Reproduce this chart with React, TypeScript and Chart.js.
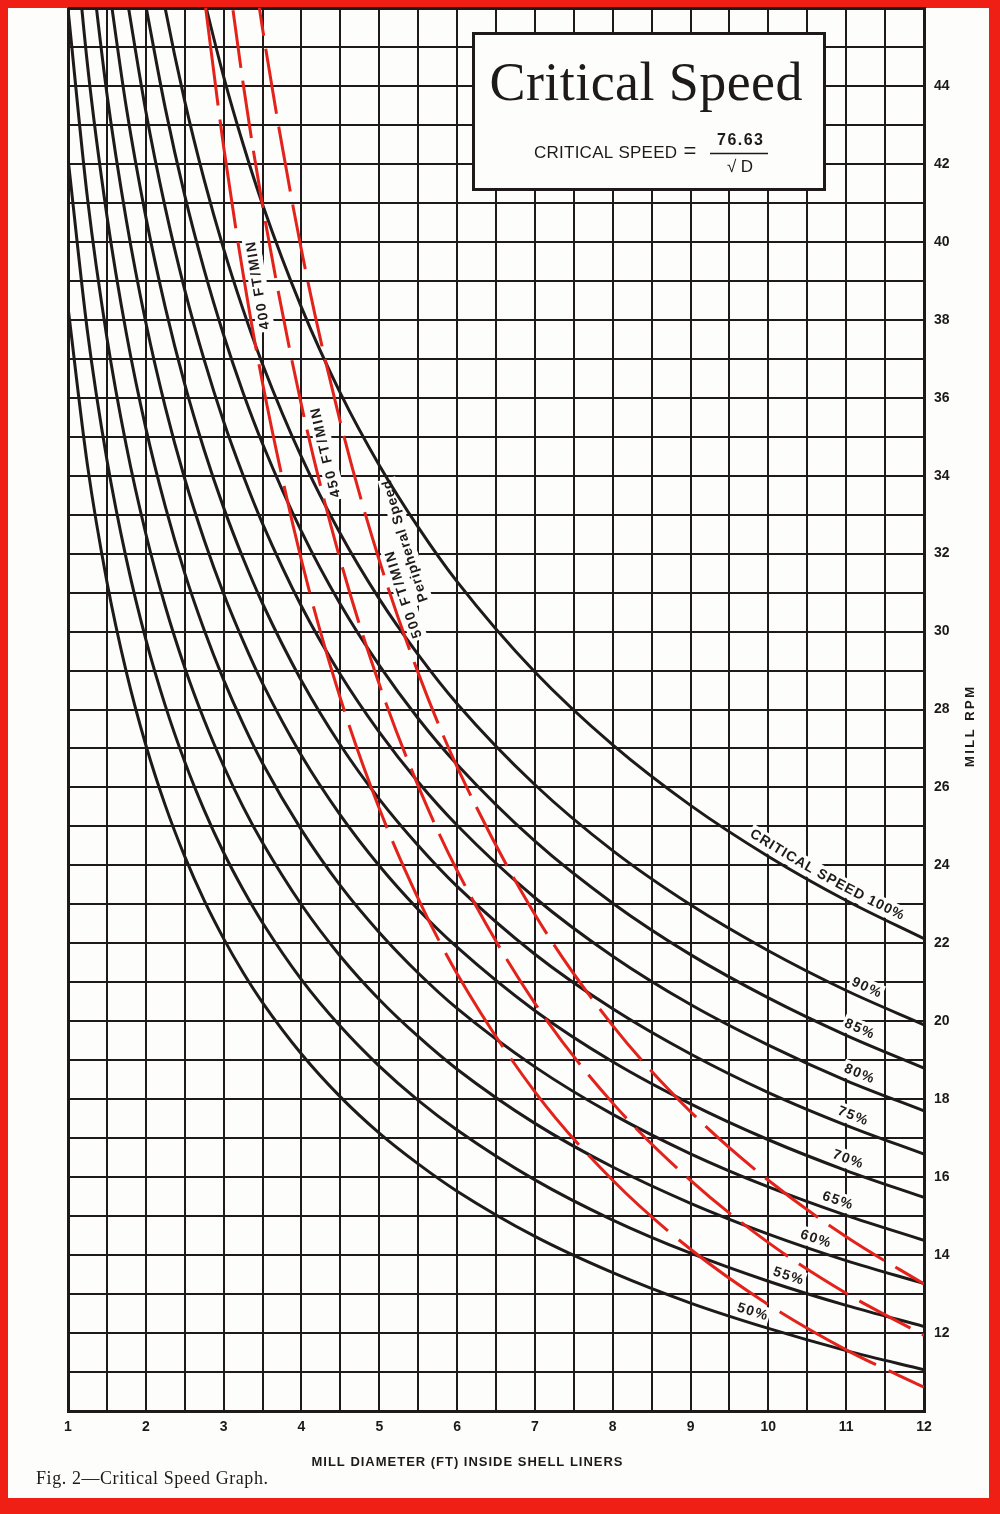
import React, { useEffect, useRef } from "react";
import { Chart, registerables } from "chart.js";

Chart.register(...registerables);

// ---------- data ----------
// Mill diameter (ft) grid used for reading the curves
const diameters = [1, 1.25, 1.5, 1.75, 2, 2.25, 2.5, 2.75, 3, 3.25, 3.5, 4, 4.5, 5, 5.5, 6, 7, 8, 9, 10, 11, 12];

// Mill RPM at each diameter (null = above the top of the sheet)
const rpmCritical100 = [null, null, null, null, null, null, null, 46.21, 44.24, 42.51, 40.96, 38.32, 36.12, 34.27, 32.68, 31.28, 28.96, 27.09, 25.54, 24.23, 23.1, 22.12];
const rpmCritical90 = [null, null, null, null, 48.77, 45.98, 43.61, 41.59, 39.82, 38.26, 36.86, 34.48, 32.51, 30.84, 29.41, 28.15, 26.07, 24.38, 22.99, 21.81, 20.79, 19.91];
const rpmCritical85 = [null, null, null, null, 46.06, 43.43, 41.19, 39.28, 37.61, 36.13, 34.82, 32.57, 30.7, 29.13, 27.77, 26.59, 24.62, 23.03, 21.71, 20.6, 19.64, 18.8];
const rpmCritical80 = [null, null, null, 46.34, 43.35, 40.87, 38.77, 36.97, 35.39, 34.01, 32.77, 30.65, 28.9, 27.42, 26.14, 25.03, 23.17, 21.67, 20.43, 19.39, 18.48, 17.7];
const rpmCritical75 = [null, null, 46.93, 43.44, 40.64, 38.32, 36.35, 34.66, 33.18, 31.88, 30.72, 28.74, 27.09, 25.7, 24.51, 23.46, 21.72, 20.32, 19.16, 18.17, 17.33, 16.59];
const rpmCritical70 = [null, 47.98, 43.8, 40.55, 37.93, 35.76, 33.92, 32.35, 30.97, 29.76, 28.67, 26.82, 25.29, 23.99, 22.87, 21.9, 20.27, 18.96, 17.88, 16.96, 16.17, 15.48];
const rpmCritical65 = [49.81, 44.55, 40.67, 37.65, 35.22, 33.21, 31.5, 30.04, 28.76, 27.63, 26.62, 24.91, 23.48, 22.28, 21.24, 20.33, 18.83, 17.61, 16.6, 15.75, 15.02, 14.38];
const rpmCritical60 = [45.98, 41.12, 37.54, 34.76, 32.51, 30.65, 29.08, 27.73, 26.55, 25.5, 24.58, 22.99, 21.67, 20.56, 19.61, 18.77, 17.38, 16.26, 15.33, 14.54, 13.86, 13.27];
const rpmCritical55 = [42.15, 37.7, 34.41, 31.86, 29.8, 28.1, 26.66, 25.42, 24.33, 23.38, 22.53, 21.07, 19.87, 18.85, 17.97, 17.21, 15.93, 14.9, 14.05, 13.33, 12.71, 12.17];
const rpmCritical50 = [38.32, 34.27, 31.28, 28.96, 27.09, 25.54, 24.23, 23.1, 22.12, 21.25, 20.48, 19.16, 18.06, 17.13, 16.34, 15.64, 14.48, 13.55, 12.77, 12.12, 11.55, 11.06];

// Peripheral speed lines (ft/min)
const rpmPeripheral400 = [null, null, null, null, null, null, null, 46.3, 42.44, 39.18, 36.38, 31.83, 28.29, 25.46, 23.15, 21.22, 18.19, 15.92, 14.15, 12.73, 11.57, 10.61];
const rpmPeripheral450 = [null, null, null, null, null, null, null, null, 47.75, 44.07, 40.93, 35.81, 31.83, 28.65, 26.04, 23.87, 20.46, 17.9, 15.92, 14.32, 13.02, 11.94];
const rpmPeripheral500 = [null, null, null, null, null, null, null, null, null, 48.97, 45.47, 39.79, 35.37, 31.83, 28.94, 26.53, 22.74, 19.89, 17.68, 15.92, 14.47, 13.26];

// Axis tick labels
const xTickLabels = [1, 2, 3, 4, 5, 6, 7, 8, 9, 10, 11, 12];
const yTickLabels = [12, 14, 16, 18, 20, 22, 24, 26, 28, 30, 32, 34, 36, 38, 40, 42, 44];

// ---------- styles ----------
const INK = "#1e1a1b";
const RED = "#e3231b";
const PAPER = "#fdfdfb";
const FRAME = "#f01f16";
const SANS = '"Liberation Sans", "DejaVu Sans", Arial, sans-serif';
const SERIF = '"Liberation Serif", "DejaVu Serif", "Times New Roman", serif';

type Curve = { key: string; values: (number | null)[]; color: string; dash: number[] };

const curves: Curve[] = [
  { key: "p400", values: rpmPeripheral400, color: RED, dash: [110, 14] },
  { key: "p450", values: rpmPeripheral450, color: RED, dash: [58, 13] },
  { key: "p500", values: rpmPeripheral500, color: RED, dash: [66, 13] },
  { key: "c100", values: rpmCritical100, color: INK, dash: [] },
  { key: "c90", values: rpmCritical90, color: INK, dash: [] },
  { key: "c85", values: rpmCritical85, color: INK, dash: [] },
  { key: "c80", values: rpmCritical80, color: INK, dash: [] },
  { key: "c75", values: rpmCritical75, color: INK, dash: [] },
  { key: "c70", values: rpmCritical70, color: INK, dash: [] },
  { key: "c65", values: rpmCritical65, color: INK, dash: [] },
  { key: "c60", values: rpmCritical60, color: INK, dash: [] },
  { key: "c55", values: rpmCritical55, color: INK, dash: [] },
  { key: "c50", values: rpmCritical50, color: INK, dash: [] },
];

type CurveLabel = { key: string; text: string; at: number; offset: number; length: number; dir: 1 | -1; font: string; size: number };

const PCT_FONT = `bold 14px ${SANS}`;
const RED_FONT = `bold 14px ${SANS}`;

const curveLabels: CurveLabel[] = [
  { key: "c100", text: "CRITICAL SPEED 100%", at: 10.67, offset: 11, length: 175, dir: 1, font: `bold 14px ${SANS}`, size: 14 },
  { key: "c90", text: "90%", at: 11.2, offset: 11, length: 31, dir: 1, font: PCT_FONT, size: 14 },
  { key: "c85", text: "85%", at: 11.11, offset: 11, length: 31, dir: 1, font: PCT_FONT, size: 14 },
  { key: "c80", text: "80%", at: 11.11, offset: 11, length: 31, dir: 1, font: PCT_FONT, size: 14 },
  { key: "c75", text: "75%", at: 11.03, offset: 11, length: 31, dir: 1, font: PCT_FONT, size: 14 },
  { key: "c70", text: "70%", at: 10.97, offset: 11, length: 31, dir: 1, font: PCT_FONT, size: 14 },
  { key: "c65", text: "65%", at: 10.84, offset: 11, length: 31, dir: 1, font: PCT_FONT, size: 14 },
  { key: "c60", text: "60%", at: 10.56, offset: 11, length: 31, dir: 1, font: PCT_FONT, size: 14 },
  { key: "c55", text: "55%", at: 10.21, offset: 11, length: 31, dir: 1, font: PCT_FONT, size: 14 },
  { key: "c50", text: "50%", at: 9.75, offset: 11, length: 31, dir: 1, font: PCT_FONT, size: 14 },
  { key: "p400", text: "400 FT/MIN", at: 3.28, offset: -13, length: 89, dir: -1, font: RED_FONT, size: 14 },
  { key: "p450", text: "450 FT/MIN", at: 4.15, offset: -13, length: 92, dir: -1, font: RED_FONT, size: 14 },
  { key: "p500", text: "500 FT/MIN", at: 5.16, offset: -12.5, length: 91, dir: -1, font: RED_FONT, size: 14 },
  { key: "p500", text: "Peripheral Speed", at: 4.96, offset: -30, length: 128, dir: -1, font: RED_FONT, size: 14 },
];

type Pt = { x: number; y: number };
type Glyph = { ch: string; x: number; y: number; a: number; w: number; font: string; size: number };

function curvePath(chart: any, index: number): Pt[] {
  const meta = chart.getDatasetMeta(index);
  if (meta.dataset && meta.dataset.updateControlPoints) {
    meta.dataset.updateControlPoints(chart.chartArea, "x");
  }
  const pts = meta.data as any[];
  const out: Pt[] = [];
  for (let i = 0; i < pts.length; i++) {
    const p = pts[i];
    if (i === 0) {
      out.push({ x: p.x, y: p.y });
      continue;
    }
    const q = pts[i - 1];
    const c1x = q.cp2x ?? q.x, c1y = q.cp2y ?? q.y;
    const c2x = p.cp1x ?? p.x, c2y = p.cp1y ?? p.y;
    for (let s = 1; s <= 24; s++) {
      const t = s / 24, u = 1 - t;
      out.push({
        x: u * u * u * q.x + 3 * u * u * t * c1x + 3 * u * t * t * c2x + t * t * t * p.x,
        y: u * u * u * q.y + 3 * u * u * t * c1y + 3 * u * t * t * c2y + t * t * t * p.y,
      });
    }
  }
  return out;
}

function layoutOnCurve(ctx: CanvasRenderingContext2D, pts: Pt[], cx: number, lab: CurveLabel): Glyph[] {
  const path = lab.dir === 1 ? pts : [...pts].reverse();
  const cum = [0];
  for (let i = 1; i < path.length; i++) {
    cum.push(cum[i - 1] + Math.hypot(path[i].x - path[i - 1].x, path[i].y - path[i - 1].y));
  }
  const total = cum[cum.length - 1];
  let sc = total / 2;
  for (let i = 1; i < path.length; i++) {
    const a = path[i - 1], b = path[i];
    if ((a.x - cx) * (b.x - cx) <= 0 && a.x !== b.x) {
      const t = (cx - a.x) / (b.x - a.x);
      sc = cum[i - 1] + t * (cum[i] - cum[i - 1]);
      break;
    }
  }
  const at = (s0: number): Pt => {
    const s = Math.max(0, Math.min(total, s0));
    let lo = 0, hi = cum.length - 1;
    while (hi - lo > 1) {
      const m = (lo + hi) >> 1;
      if (cum[m] <= s) lo = m;
      else hi = m;
    }
    const seg = cum[hi] - cum[lo] || 1;
    const t = (s - cum[lo]) / seg;
    return { x: path[lo].x + t * (path[hi].x - path[lo].x), y: path[lo].y + t * (path[hi].y - path[lo].y) };
  };
  ctx.save();
  ctx.font = lab.font;
  const chars = [...lab.text];
  const ws = chars.map((c) => ctx.measureText(c).width);
  ctx.restore();
  const sum = ws.reduce((a, b) => a + b, 0);
  const sp = chars.length > 1 ? (lab.length - sum) / (chars.length - 1) : 0;
  let s = sc - lab.length / 2;
  return chars.map((ch, i) => {
    const m = s + ws[i] / 2;
    const p = at(m), p1 = at(m - 4), p2 = at(m + 4);
    const a = Math.atan2(p2.y - p1.y, p2.x - p1.x);
    const ux = Math.sin(a), uy = -Math.cos(a);
    s += ws[i] + sp;
    return { ch, x: p.x + lab.offset * ux, y: p.y + lab.offset * uy, a, w: ws[i] + sp, font: lab.font, size: lab.size };
  });
}

function drawSpaced(ctx: CanvasRenderingContext2D, text: string, x: number, y: number, width: number, align: "left" | "center") {
  const chars = [...text];
  const ws = chars.map((c) => ctx.measureText(c).width);
  const sum = ws.reduce((a, b) => a + b, 0);
  const sp = chars.length > 1 ? (width - sum) / (chars.length - 1) : 0;
  let cx = align === "center" ? x - width / 2 : x;
  ctx.textAlign = "left";
  chars.forEach((c, i) => {
    ctx.fillText(c, cx, y);
    cx += ws[i] + sp;
  });
}

function computeGlyphs(chart: any): Glyph[] {
  const ctx: CanvasRenderingContext2D = chart.ctx;
  const xs = chart.scales.x;
  const glyphs: Glyph[] = [];
  const cache: Record<string, Pt[]> = {};
  curveLabels.forEach((lab) => {
    const idx = curves.findIndex((c) => c.key === lab.key);
    if (idx < 0) return;
    if (!cache[lab.key]) cache[lab.key] = curvePath(chart, idx);
    const cx = xs.getPixelForValue(lab.at);
    glyphs.push(...layoutOnCurve(ctx, cache[lab.key], cx, lab));
  });
  return glyphs;
}

const decorPlugin = {
  id: "decor",
  beforeDatasetsDraw(chart: any) {
    const ctx: CanvasRenderingContext2D = chart.ctx;
    const glyphs = computeGlyphs(chart);
    chart.$glyphs = glyphs;
    ctx.save();
    ctx.fillStyle = PAPER;
    glyphs.forEach((g) => {
      ctx.save();
      ctx.translate(g.x, g.y);
      ctx.rotate(g.a);
      ctx.fillRect(-g.w / 2 - 1.5, -g.size / 2 - 2, g.w + 3, g.size + 4);
      ctx.restore();
    });
    ctx.restore();
  },
  afterDatasetsDraw(chart: any) {
    const ctx: CanvasRenderingContext2D = chart.ctx;
    const glyphs: Glyph[] = chart.$glyphs || [];
    ctx.save();
    ctx.fillStyle = INK;
    ctx.textAlign = "center";
    ctx.textBaseline = "middle";
    glyphs.forEach((g) => {
      ctx.save();
      ctx.font = g.font;
      ctx.translate(g.x, g.y);
      ctx.rotate(g.a);
      ctx.fillText(g.ch, 0, 0);
      ctx.restore();
    });
    ctx.restore();

    // title box
    ctx.save();
    ctx.fillStyle = PAPER;
    ctx.fillRect(472, 32, 354, 159);
    ctx.lineWidth = 3;
    ctx.strokeStyle = INK;
    ctx.strokeRect(473.5, 33.5, 351, 156);
    ctx.fillStyle = INK;
    ctx.textBaseline = "alphabetic";
    ctx.font = `54px ${SERIF}`;
    drawSpaced(ctx, "Critical Speed", 646, 100, 313, "center");
    ctx.textBaseline = "middle";
    ctx.font = `17px ${SANS}`;
    drawSpaced(ctx, "CRITICAL SPEED", 534, 153, 143, "left");
    ctx.font = `22px ${SANS}`;
    ctx.textAlign = "center";
    ctx.fillText("=", 690, 152);
    ctx.lineWidth = 1.3;
    ctx.beginPath();
    ctx.moveTo(710, 153.5);
    ctx.lineTo(768, 153.5);
    ctx.stroke();
    ctx.font = `bold 16px ${SANS}`;
    drawSpaced(ctx, "76.63", 740, 141, 46, "center");
    ctx.font = `17px ${SANS}`;
    drawSpaced(ctx, "\u221AD", 740, 167, 26, "center");
    ctx.restore();
  },
  afterDraw(chart: any) {
    const ctx: CanvasRenderingContext2D = chart.ctx;
    ctx.save();
    ctx.fillStyle = INK;
    ctx.textBaseline = "middle";
    ctx.font = `bold 13px ${SANS}`;
    drawSpaced(ctx, "MILL DIAMETER (FT) INSIDE SHELL LINERS", 467, 1462, 311, "center");
    ctx.save();
    ctx.translate(970, 727);
    ctx.rotate(-Math.PI / 2);
    drawSpaced(ctx, "MILL RPM", 0, 0, 80, "center");
    ctx.restore();
    ctx.textBaseline = "alphabetic";
    ctx.font = `18px ${SERIF}`;
    drawSpaced(ctx, "Fig. 2\u2014Critical Speed Graph.", 36, 1484, 232, "left");
    ctx.restore();
  },
};

export default function App() {
  const ref = useRef<HTMLCanvasElement | null>(null);

  useEffect(() => {
    const canvas = ref.current;
    if (!canvas) return;
    const datasets = curves.map((c) => ({
      label: c.key,
      data: diameters
        .map((d, i) => (c.values[i] == null ? null : { x: d, y: c.values[i] as number }))
        .filter((p) => p !== null) as { x: number; y: number }[],
      borderColor: c.color,
      borderWidth: 3,
      borderDash: c.dash,
      borderCapStyle: "butt" as const,
      pointRadius: 0,
      fill: false,
      cubicInterpolationMode: "monotone" as const,
      clip: 0,
    }));

    const chart = new Chart(canvas, {
      type: "line",
      data: { datasets },
      options: {
        animation: false,
        responsive: false,
        maintainAspectRatio: false,
        layout: { padding: { left: 68, top: 8, right: 0, bottom: 0 } },
        elements: { line: { capBezierPoints: false }, point: { radius: 0 } },
        plugins: { legend: { display: false }, tooltip: { enabled: false }, title: { display: false } },
        scales: {
          x: {
            type: "linear",
            position: "bottom",
            min: 1,
            max: 12,
            afterFit: (s: any) => {
              s.height = 103;
              s.paddingLeft = 0;
              s.paddingRight = 0;
            },
            ticks: {
              stepSize: 0.5,
              autoSkip: false,
              maxRotation: 0,
              minRotation: 0,
              padding: 8,
              color: INK,
              font: { family: SANS, size: 14, weight: "bold" },
              callback: (v: any) => (xTickLabels.includes(Number(v)) ? String(v) : ""),
            },
            grid: {
              color: INK,
              lineWidth: (c: any) => (c.tick && c.tick.value === 1 ? 3 : 2),
              drawTicks: false,
            },
            border: { display: true, color: INK, width: 3 },
          },
          y: {
            type: "linear",
            position: "right",
            min: 10,
            max: 46,
            afterFit: (s: any) => {
              s.width = 76;
              s.paddingTop = 0;
              s.paddingBottom = 0;
            },
            ticks: {
              stepSize: 1,
              autoSkip: false,
              padding: 10,
              color: INK,
              font: { family: SANS, size: 14, weight: "bold" },
              callback: (v: any) => (yTickLabels.includes(Number(v)) ? String(v) : ""),
            },
            grid: {
              color: INK,
              lineWidth: (c: any) => (c.tick && c.tick.value === 46 ? 3 : 2),
              drawTicks: false,
            },
            border: { display: true, color: INK, width: 3 },
          },
        },
      } as any,
      plugins: [decorPlugin as any],
    });
    return () => chart.destroy();
  }, []);

  return (
    <div style={{ position: "absolute", left: 0, top: 0, width: 1000, height: 1514, background: FRAME, overflow: "hidden" }}>
      <div style={{ position: "absolute", left: 8, top: 8, width: 981, height: 1490, background: PAPER }} />
      <canvas
        ref={ref}
        width={1000}
        height={1514}
        style={{ position: "absolute", left: 0, top: 0, width: 1000, height: 1514 }}
      />
    </div>
  );
}
